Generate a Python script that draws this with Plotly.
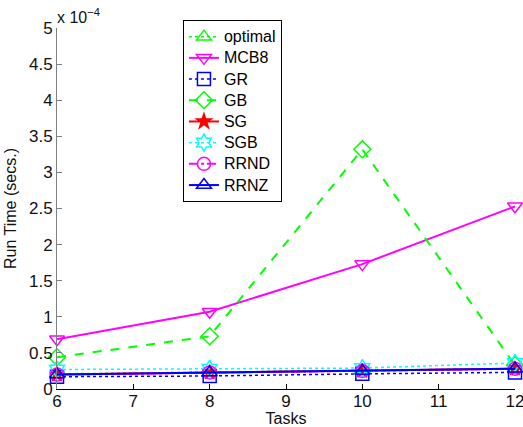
import plotly.graph_objects as go

tasks = [6, 8, 10, 12]
# Run time in units of 1e-4 seconds
optimal = [0.21, 0.23, 0.25, 0.28]
mcb8 = [0.69, 1.07, 1.73, 2.53]
gr = [0.17, 0.18, 0.21, 0.23]
gb = [0.44, 0.73, 3.32, 0.33]
sg = [0.20, 0.23, 0.25, 0.28]
sgb = [0.27, 0.28, 0.29, 0.36]
rrnd = [0.20, 0.23, 0.25, 0.28]
rrnz = [0.20, 0.23, 0.25, 0.28]
x_ticks = [6, 7, 8, 9, 10, 11, 12]
y_ticks = [0, 0.5, 1, 1.5, 2, 2.5, 3, 3.5, 4, 4.5, 5]
y_ticktext = ["0", "0.5", "1", "1.5", "2", "2.5", "3", "3.5", "4", "4.5", "5"]

series = [
    ("optimal", optimal, "#00ff00", "dot", "triangle-up-open"),
    ("MCB8", mcb8, "#ff00ff", "solid", "triangle-down-open"),
    ("GR", gr, "#0000ff", "dot", "square-open"),
    ("GB", gb, "#00ff00", "dash", "diamond-open"),
    ("SG", sg, "#ff0000", "solid", "star"),
    ("SGB", sgb, "#00ffff", "dot", "hexagram-open"),
    ("RRND", rrnd, "#ff00ff", "dashdot", "circle-open"),
    ("RRNZ", rrnz, "#0000ff", "solid", "triangle-up-open"),
]

fig = go.Figure()
for name, vals, color, dash, sym in series:
    fig.add_trace(go.Scatter(
        x=tasks, y=vals, name="<span style='font-size:16px'>" + name + "</span>",
        mode="lines+markers",
        line=dict(color=color, dash=dash, width=2 if dash != "dot" else 1.5),
        marker=dict(symbol=sym, size=13 if sym != "star" else 11, color=color,
                    line=dict(color=color, width=1.5)),
        cliponaxis=False,
    ))

font = "Liberation Sans, Arial, sans-serif"
fig.update_layout(
    width=523, height=427,
    margin=dict(l=57, r=8, t=28, b=38),
    paper_bgcolor="white", plot_bgcolor="white",
    font=dict(family=font, size=16, color="#111"),
    showlegend=True,
    legend=dict(
        x=0.275, y=1.022, xanchor="left", yanchor="top",
        bgcolor="white", bordercolor="black", borderwidth=1,
        font=dict(size=14, family=font, color="black"),
        tracegroupgap=0, itemwidth=30,
    ),
    xaxis=dict(
        range=[6, 12], tickvals=x_ticks, automargin=False, ticklabeloverflow="allow",
        showgrid=False, zeroline=False, showline=True, linecolor="black", linewidth=1,
        ticks="inside", ticklen=5, tickcolor="black",
        title=dict(text="Tasks", font=dict(size=16), standoff=0),
        tickfont=dict(size=17), ticklabelstandoff=-3,
    ),
    yaxis=dict(
        range=[0, 5], tickvals=y_ticks, ticktext=y_ticktext, automargin=False,
        ticklabeloverflow="allow",
        showgrid=False, zeroline=False, showline=True, linecolor="#808080", linewidth=1,
        ticks="inside", ticklen=5, tickcolor="#808080",
        title=dict(text="Run Time (secs.)", font=dict(size=16), standoff=8),
        tickfont=dict(size=17),
    ),
    annotations=[dict(
        x=0, y=1, xref="paper", yref="paper", xanchor="left", yanchor="bottom",
        text="x 10<sup>−4</sup>", showarrow=False, font=dict(size=16, family=font, color="#111"),
        xshift=-2, yshift=0,
    )],
)
fig.write_html("out.html", config={"displayModeBar": False},
               post_script="document.body.style.margin='0';")
